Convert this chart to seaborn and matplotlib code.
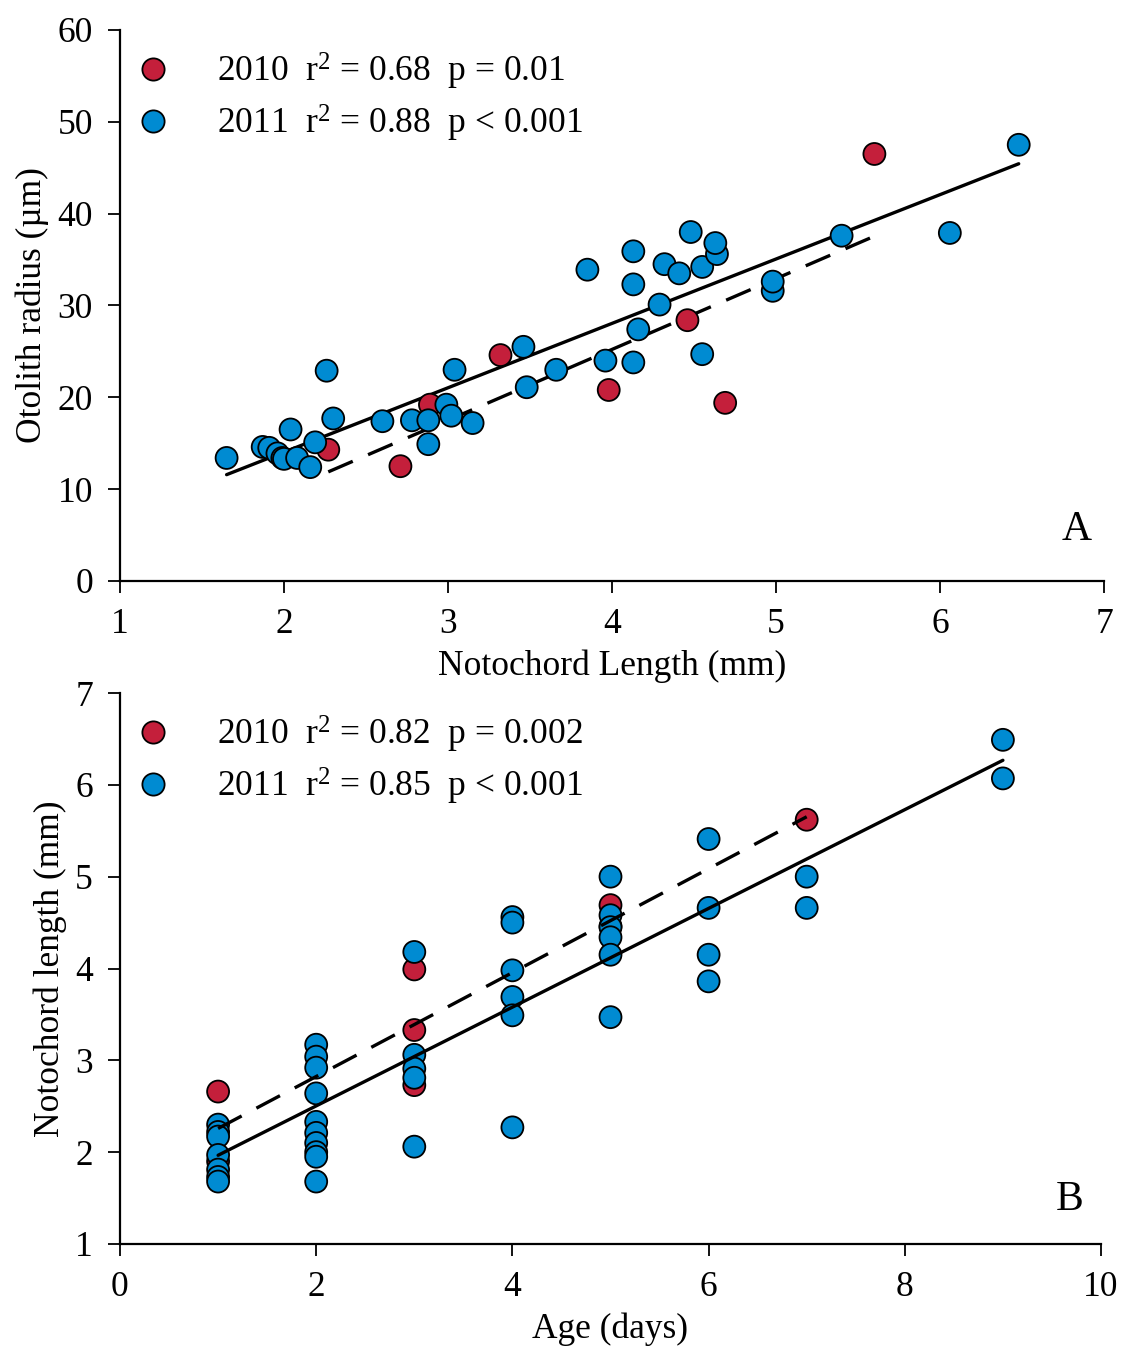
import numpy as np
import pandas as pd
import matplotlib
matplotlib.use("Agg")
import matplotlib.pyplot as plt
import seaborn as sns

# ---------------- data ----------------
# Panel A: otolith radius (um) vs notochord length (mm)
a_nl_2010 = [5.60, 3.32, 2.89, 2.27, 2.71, 3.98, 4.46, 4.69]
a_or_2010 = [46.5, 24.6, 19.2, 14.3, 12.5, 20.8, 28.4, 19.4]

a_nl_2011 = [1.65, 1.87, 1.91, 1.96, 1.99, 2.00, 2.04, 2.08, 2.16, 2.19, 2.26,
             2.30, 2.60, 2.78, 2.88, 2.88, 2.99, 3.02, 3.15, 3.04, 3.46, 3.48,
             3.66, 3.85, 3.96, 4.13, 4.13, 4.13, 4.16, 4.29, 4.32, 4.41, 4.48,
             4.55, 4.55, 4.64, 4.63, 4.98, 4.98, 5.40, 6.06, 6.48]
a_or_2011 = [13.4, 14.6, 14.5, 13.9, 13.4, 13.3, 16.5, 13.4, 12.4, 15.1, 22.9,
             17.7, 17.4, 17.5, 17.5, 14.9, 19.2, 18.0, 17.2, 23.0, 25.5, 21.1,
             23.0, 33.9, 24.0, 35.9, 32.3, 23.8, 27.4, 30.1, 34.5, 33.5, 38.0,
             24.7, 34.2, 35.6, 36.8, 31.6, 32.6, 37.6, 37.9, 47.5]

# Panel B: notochord length (mm) vs age (days)
b_age_2010 = [1, 1, 3, 3, 3, 5, 5, 7]
b_nl_2010 = [2.66, 1.90, 3.33, 3.99, 2.73, 4.69, 4.46, 5.62]

b_age_2011 = [1, 1, 1, 1, 1, 1, 1,
              2, 2, 2, 2, 2, 2, 2, 2, 2, 2,
              3, 3, 3, 3, 3,
              4, 4, 4, 4, 4, 4,
              5, 5, 5, 5, 5, 5,
              6, 6, 6, 6,
              7, 7,
              9, 9]
b_nl_2011 = [2.30, 2.22, 2.17, 1.97, 1.81, 1.73, 1.68,
             3.17, 3.04, 2.92, 2.64, 2.33, 2.21, 2.10, 2.00, 1.95, 1.68,
             4.18, 3.06, 2.91, 2.81, 2.06,
             4.56, 4.50, 3.98, 3.69, 3.49, 2.27,
             5.00, 4.58, 4.45, 4.34, 4.15, 3.47,
             5.41, 4.66, 4.15, 3.86,
             5.00, 4.66,
             6.49, 6.07]

years = ["2010", "2011"]
legend_a = [r"2010  r$^2$ = 0.68  p = 0.01", r"2011  r$^2$ = 0.88  p < 0.001"]
legend_b = [r"2010  r$^2$ = 0.82  p = 0.002", r"2011  r$^2$ = 0.85  p < 0.001"]

colors = {"2010": "#C41F3B", "2011": "#008BD2"}

df_a = pd.DataFrame({
    "nl": a_nl_2010 + a_nl_2011,
    "orad": a_or_2010 + a_or_2011,
    "year": ["2010"] * len(a_nl_2010) + ["2011"] * len(a_nl_2011),
})
df_b = pd.DataFrame({
    "age": b_age_2010 + b_age_2011,
    "nl": b_nl_2010 + b_nl_2011,
    "year": ["2010"] * len(b_age_2010) + ["2011"] * len(b_age_2011),
})

# ---------------- style ----------------
sns.set_theme(style="ticks")
plt.rcParams["font.family"] = ["Liberation Serif", "DejaVu Serif"]
plt.rcParams["mathtext.fontset"] = "custom"
plt.rcParams["mathtext.rm"] = "Liberation Serif"
plt.rcParams["mathtext.it"] = "Liberation Serif:italic"
plt.rcParams["mathtext.default"] = "regular"
plt.rcParams["text.color"] = "black"
plt.rcParams["axes.labelcolor"] = "black"

FS = 25.5
fig = plt.figure(figsize=(11.23, 13.54), dpi=100)
ax_a = fig.add_axes([120 / 1123, 1 - 581 / 1354, 984 / 1123, 551 / 1354])
ax_b = fig.add_axes([120 / 1123, 1 - 1244 / 1354, 981 / 1123, 551 / 1354])

line_style = {"2010": dict(dashes=(8, 5)), "2011": dict(linestyle="-")}


def panel(ax, df, x, y, labels, line_z, lbl, lx, ly):
    sns.scatterplot(data=df, x=x, y=y, hue="year", hue_order=years,
                    palette=colors, s=250, edgecolor="black", linewidth=1.3,
                    ax=ax, zorder=3, legend=True)
    for yr in years:
        sub = df[df["year"] == yr]
        kws = dict(lw=2.4, color="black", zorder=line_z)
        kws.update(line_style[yr])
        sns.regplot(data=sub, x=x, y=y, scatter=False, ci=None, truncate=True,
                    ax=ax, line_kws=kws)
    handles, _ = ax.get_legend_handles_labels()
    for h in handles:
        h.set_markersize(16)
        h.set_markeredgecolor("black")
        h.set_markeredgewidth(1.3)
    ax.legend(handles[:2], labels, loc="upper left", frameon=False,
              fontsize=FS, handlelength=1.0, handletextpad=1.3,
              labelspacing=0.3, borderpad=0, borderaxespad=0,
              bbox_to_anchor=(0.0158, 0.962), labelcolor="black")
    ax.text(lx, ly, lbl, transform=ax.transAxes, fontsize=30,
            ha="center", va="center", color="black")
    for s in ["top", "right"]:
        ax.spines[s].set_visible(False)
    for s in ["left", "bottom"]:
        ax.spines[s].set_linewidth(1.6)
        ax.spines[s].set_color("black")
    ax.tick_params(axis="both", direction="out", length=8.5, width=1.3,
                   color="black", labelsize=FS, pad=11, labelcolor="black")


panel(ax_a, df_a, "nl", "orad", legend_a, 2, "A", 0.9726, 0.0926)
ax_a.set_xlim(1, 7)
ax_a.set_ylim(0, 60)
ax_a.set_xticks(range(1, 8))
ax_a.set_yticks(range(0, 61, 10))
ax_a.set_xlabel("Notochord Length (mm)", fontsize=FS, labelpad=6)
ax_a.set_ylabel("Otolith radius (µm)", fontsize=FS, labelpad=6)

panel(ax_b, df_b, "age", "nl", legend_b, 4, "B", 0.968, 0.08)
ax_b.set_xlim(0, 10)
ax_b.set_ylim(1, 7)
ax_b.set_xticks(range(0, 11, 2))
ax_b.set_yticks(range(1, 8))
ax_b.set_xlabel("Age (days)", fontsize=FS, labelpad=6)
ax_b.set_ylabel("Notochord length (mm)", fontsize=FS, labelpad=6)

fig.savefig("out.png", dpi=100, facecolor="white")
